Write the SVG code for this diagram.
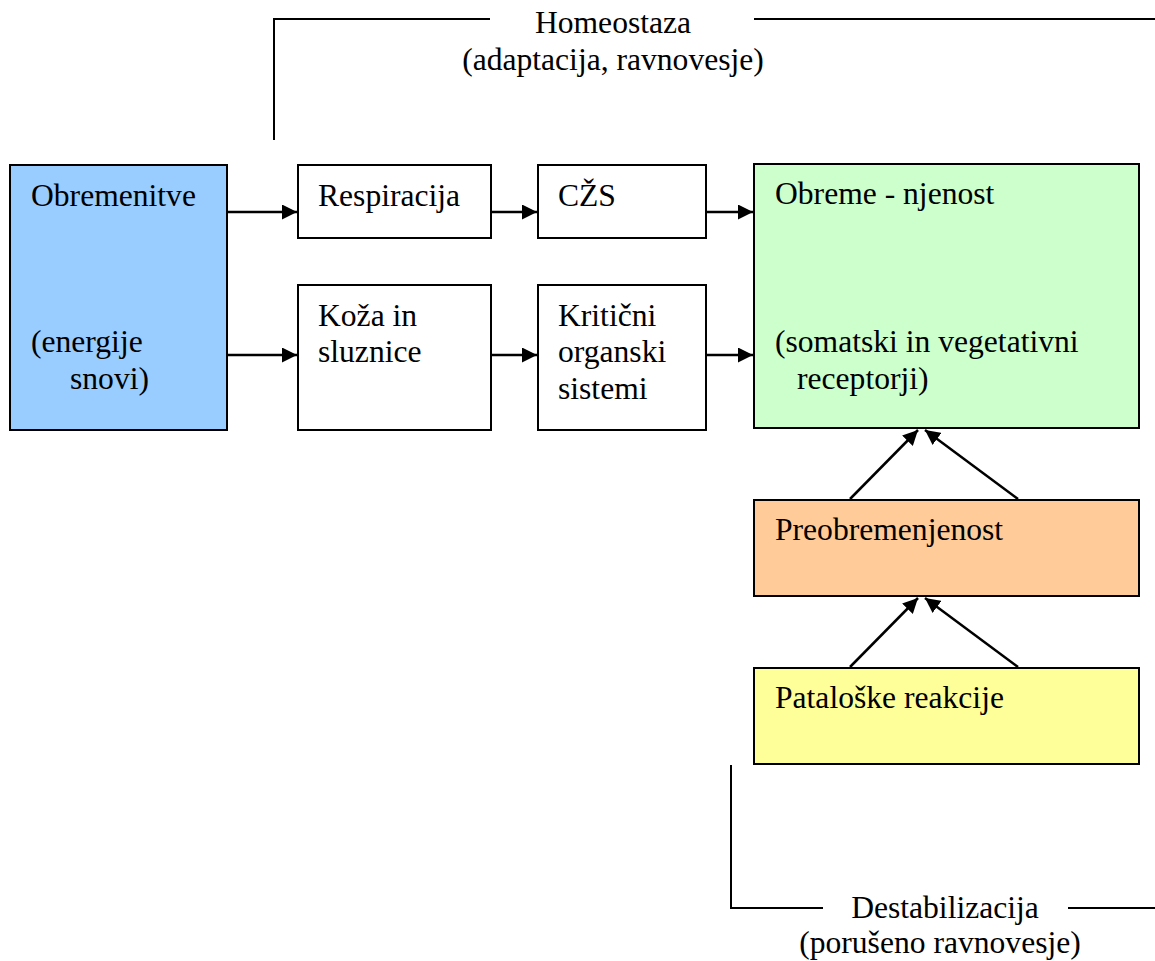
<svg xmlns="http://www.w3.org/2000/svg" width="1155" height="961" viewBox="0 0 1155 961">
  <style>
    .box { stroke: #000; stroke-width: 2; }
    .white { fill: #fff; }
    .blue { fill: #99ccff; }
    .green { fill: #ccffcc; }
    .orange { fill: #ffcc99; }
    .yellow { fill: #ffff99; }
    .mid { text-anchor: middle; }
    .edge { stroke: #000; stroke-width: 2.5; fill: none; }
    .bracket { stroke: #000; stroke-width: 2; fill: none; }
  </style>
  <defs>
    <marker id="arrow" viewBox="0 0 10 10" refX="10" refY="5" markerWidth="6" markerHeight="6" markerUnits="strokeWidth" orient="auto">
      <path d="M0,0 L10,5 L0,10 z" fill="#000"/>
    </marker>
  </defs>

  <g font-family="Liberation Serif, DejaVu Serif, serif" font-size="31.6" fill="#000">
  <!-- brackets -->
  <g id="homeostaza">
    <path class="bracket" d="M274,140 V19 H490 M754,19 H1155"/>
    <text class="mid" x="613" y="33">Homeostaza</text>
    <text class="mid" x="613" y="70">(adaptacija, ravnovesje)</text>
  </g>
  <g id="destabilizacija">
    <path class="bracket" d="M731,765 V908 H823 M1068,908 H1155"/>
    <text class="mid" x="945" y="918">Destabilizacija</text>
    <text class="mid" x="940" y="953">(porušeno ravnovesje)</text>
  </g>

  <!-- nodes -->
  <g id="obremenitve">
    <rect class="box blue" x="10" y="165" width="217" height="265"/>
    <text x="31" y="206">Obremenitve</text>
    <text x="31" y="352">(energije</text>
    <text x="70" y="389">snovi)</text>
  </g>
  <g id="respiracija">
    <rect class="box white" x="298" y="165" width="193" height="73"/>
    <text x="318" y="206">Respiracija</text>
  </g>
  <g id="czs">
    <rect class="box white" x="538" y="165" width="168" height="73"/>
    <text x="558" y="206">CŽS</text>
  </g>
  <g id="koza">
    <rect class="box white" x="298" y="285" width="193" height="145"/>
    <text x="318" y="326">Koža in</text>
    <text x="318" y="362">sluznice</text>
  </g>
  <g id="kriticni">
    <rect class="box white" x="538" y="285" width="168" height="145"/>
    <text x="558" y="326">Kritični</text>
    <text x="558" y="362">organski</text>
    <text x="558" y="399">sistemi</text>
  </g>
  <g id="obremenjenost">
    <rect class="box green" x="754" y="164" width="385" height="264"/>
    <text x="775" y="204">Obreme - njenost</text>
    <text x="775" y="352">(somatski in vegetativni</text>
    <text x="797" y="389">receptorji)</text>
  </g>
  <g id="preobremenjenost">
    <rect class="box orange" x="754" y="500" width="385" height="96"/>
    <text x="775" y="540">Preobremenjenost</text>
  </g>
  <g id="patoloske">
    <rect class="box yellow" x="754" y="668" width="385" height="96"/>
    <text x="775" y="708">Pataloške reakcije</text>
  </g>
  </g>

  <!-- connectors -->
  <g id="connectors">
    <line class="edge" x1="228" y1="212" x2="297" y2="212" marker-end="url(#arrow)"/>
    <line class="edge" x1="228" y1="355" x2="297" y2="355" marker-end="url(#arrow)"/>
    <line class="edge" x1="491" y1="212" x2="537" y2="212" marker-end="url(#arrow)"/>
    <line class="edge" x1="491" y1="355" x2="537" y2="355" marker-end="url(#arrow)"/>
    <line class="edge" x1="706" y1="212" x2="753" y2="212" marker-end="url(#arrow)"/>
    <line class="edge" x1="706" y1="355" x2="753" y2="355" marker-end="url(#arrow)"/>
    <line class="edge" x1="850" y1="499" x2="918" y2="430" marker-end="url(#arrow)"/>
    <line class="edge" x1="1018" y1="499" x2="925" y2="430" marker-end="url(#arrow)"/>
    <line class="edge" x1="850" y1="667" x2="918" y2="598" marker-end="url(#arrow)"/>
    <line class="edge" x1="1018" y1="667" x2="925" y2="598" marker-end="url(#arrow)"/>
  </g>
</svg>
